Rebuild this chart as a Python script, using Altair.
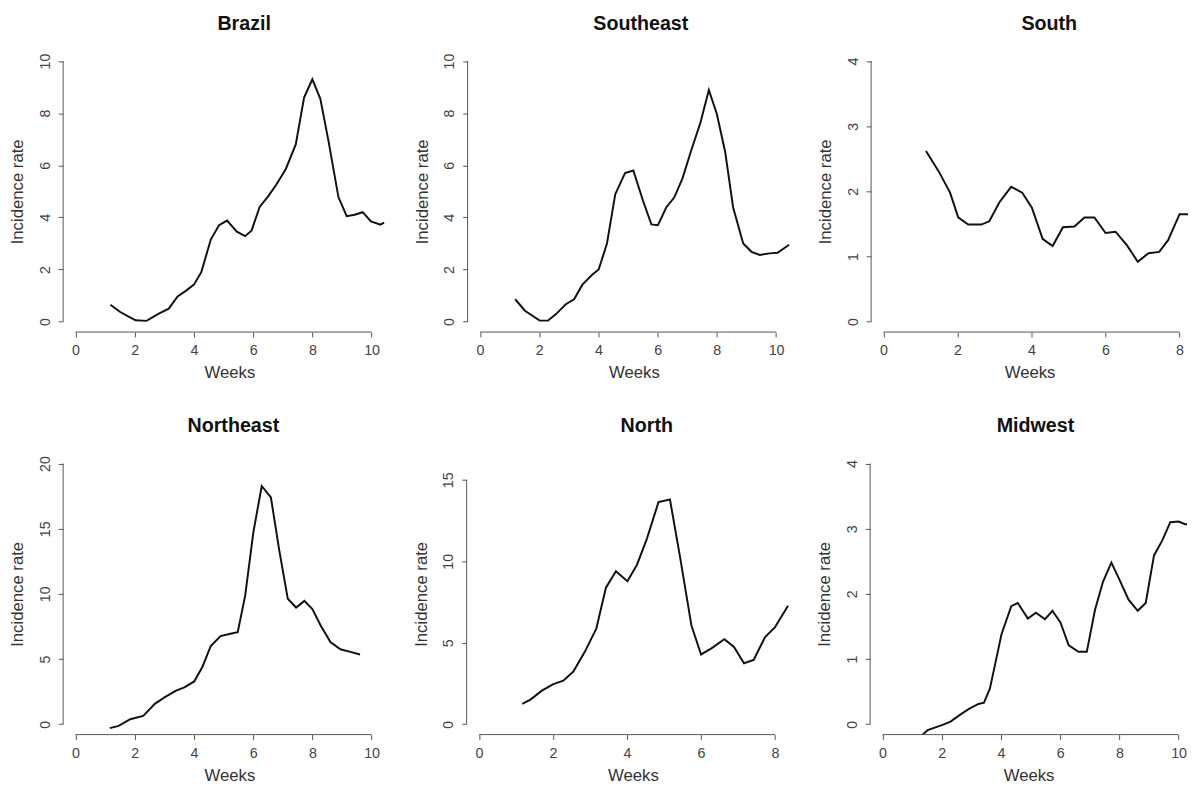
import altair as alt
import pandas as pd

# ---------------- data ----------------
regions = ["Brazil", "Southeast", "South", "Northeast", "North", "Midwest"]

brazil_weeks = [1.18, 1.5, 1.75, 2.03, 2.4, 2.8, 3.15, 3.45, 3.75, 4.0, 4.25, 4.57, 4.85,
                5.12, 5.45, 5.73, 5.95, 6.22, 6.5, 6.78, 7.1, 7.44, 7.72, 8.0, 8.27, 8.55,
                8.88, 9.16, 9.43, 9.7, 9.98, 10.3, 10.42]
brazil_rate = [0.65, 0.38, 0.22, 0.05, 0.03, 0.3, 0.5, 0.97, 1.2, 1.42, 1.9, 3.15, 3.7,
               3.88, 3.45, 3.28, 3.5, 4.4, 4.8, 5.25, 5.85, 6.8, 8.6, 9.3, 8.55, 6.9,
               4.78, 4.05, 4.1, 4.2, 3.85, 3.72, 3.8]

southeast_weeks = [1.19, 1.52, 2.02, 2.3, 2.57, 2.9, 3.18, 3.46, 3.79, 4.01, 4.29, 4.57,
                   4.9, 5.18, 5.51, 5.79, 6.01, 6.29, 6.56, 6.84, 7.12, 7.45, 7.73, 8.0,
                   8.28, 8.55, 8.89, 9.17, 9.45, 9.78, 10.05, 10.44]
southeast_rate = [0.86, 0.42, 0.04, 0.04, 0.29, 0.67, 0.86, 1.42, 1.8, 2.0, 3.0, 4.89,
                  5.7, 5.8, 4.63, 3.73, 3.7, 4.38, 4.76, 5.5, 6.52, 7.65, 8.89, 7.97,
                  6.52, 4.38, 3.0, 2.68, 2.56, 2.62, 2.64, 2.95]

south_weeks = [1.15, 1.49, 1.8, 2.02, 2.29, 2.64, 2.86, 3.13, 3.45, 3.75, 4.01, 4.3, 4.57,
               4.85, 5.16, 5.43, 5.7, 6.0, 6.27, 6.58, 6.87, 7.16, 7.45, 7.69, 8.0, 8.31]
south_rate = [2.62, 2.31, 1.98, 1.6, 1.49, 1.49, 1.54, 1.83, 2.07, 1.98, 1.75, 1.27, 1.16,
              1.45, 1.46, 1.6, 1.6, 1.36, 1.38, 1.17, 0.92, 1.05, 1.07, 1.25, 1.65, 1.65]

northeast_weeks = [1.16, 1.46, 1.85, 2.29, 2.68, 3.02, 3.4, 3.68, 4.01, 4.29, 4.57, 4.9,
                   5.23, 5.48, 5.73, 6.01, 6.29, 6.6, 6.88, 7.17, 7.45, 7.73, 8.0, 8.28,
                   8.61, 8.95, 9.28, 9.61]
northeast_rate = [-0.3, -0.13, 0.38, 0.63, 1.56, 2.07, 2.57, 2.82, 3.28, 4.41, 6.0, 6.76,
                  6.94, 7.06, 9.84, 14.75, 18.28, 17.4, 13.37, 9.63, 8.95, 9.46, 8.83, 7.57,
                  6.3, 5.75, 5.55, 5.35]

north_weeks = [1.17, 1.39, 1.7, 2.01, 2.28, 2.55, 2.86, 3.17, 3.43, 3.7, 4.01, 4.27, 4.54,
               4.85, 5.16, 5.43, 5.74, 6.0, 6.27, 6.63, 6.89, 7.16, 7.42, 7.73, 8.0, 8.35]
north_rate = [1.25, 1.51, 2.06, 2.46, 2.67, 3.23, 4.44, 5.86, 8.38, 9.39, 8.78, 9.79, 11.41,
              13.63, 13.79, 10.3, 6.06, 4.28, 4.64, 5.21, 4.74, 3.74, 3.94, 5.35, 5.96, 7.27]

midwest_weeks = [1.15, 1.53, 2.03, 2.3, 2.64, 2.91, 3.24, 3.43, 3.63, 3.8, 4.02, 4.35, 4.57,
                 4.91, 5.18, 5.49, 5.74, 6.01, 6.29, 6.62, 6.9, 7.18, 7.45, 7.73, 8.01,
                 8.31, 8.62, 8.89, 9.17, 9.45, 9.72, 10.0, 10.22, 10.39]
midwest_rate = [-0.25, -0.09, -0.01, 0.04, 0.15, 0.23, 0.31, 0.33, 0.55, 0.91, 1.38, 1.81,
                1.86, 1.62, 1.71, 1.61, 1.74, 1.56, 1.21, 1.11, 1.11, 1.76, 2.19, 2.48,
                2.21, 1.91, 1.74, 1.86, 2.59, 2.82, 3.1, 3.11, 3.07, 3.07]

x_ticks_10 = [0, 2, 4, 6, 8, 10]
x_ticks_8 = [0, 2, 4, 6, 8]
y_ticks_10 = [0, 2, 4, 6, 8, 10]
y_ticks_4 = [0, 1, 2, 3, 4]
y_ticks_20 = [0, 5, 10, 15, 20]
y_ticks_15 = [0, 5, 10, 15]

# axis limits (R style xlim/ylim, expanded by 4% on each side)
x_limits = [10.4, 10.4, 8.32, 10.4, 8.32, 10.4]
y_limits = [10, 10, 4, 20, 16, 4]

series = [
    (brazil_weeks, brazil_rate, x_ticks_10, y_ticks_10),
    (southeast_weeks, southeast_rate, x_ticks_10, y_ticks_10),
    (south_weeks, south_rate, x_ticks_8, y_ticks_4),
    (northeast_weeks, northeast_rate, x_ticks_10, y_ticks_20),
    (north_weeks, north_rate, x_ticks_8, y_ticks_15),
    (midwest_weeks, midwest_rate, x_ticks_10, y_ticks_4),
]

# ---------------- layout ----------------
FULL_W = 338
H = 286
widths = [338, 338, 322, 338, 338, 322]
title_dx = [15, 7, 20, 4, 14, 7]

FONT = "Liberation Sans"
AXIS_COLOR = "#555555"
LABEL_COLOR = "#444444"
TITLE_COLOR = "#333333"


def make_axes(xt, yt):
    x_axis = alt.Axis(values=xt, title="Weeks", domain=False, grid=False,
                      tickSize=5, tickColor=AXIS_COLOR, tickWidth=1,
                      labelPadding=7, labelFont=FONT, labelFontSize=14.5,
                      labelColor=LABEL_COLOR, titleFont=FONT, titleFontSize=17,
                      titleFontWeight="normal", titleColor=TITLE_COLOR,
                      titlePadding=8, format="d")
    y_axis = alt.Axis(values=yt, title="Incidence rate", domain=False, grid=False,
                      tickSize=5, tickColor=AXIS_COLOR, tickWidth=1,
                      labelPadding=6, labelAngle=270, labelAlign="center",
                      labelBaseline="bottom", labelFont=FONT, labelFontSize=14.5,
                      labelColor=LABEL_COLOR, titleFont=FONT, titleFontSize=17,
                      titleFontWeight="normal", titleColor=TITLE_COLOR,
                      titlePadding=11, format="d")
    return x_axis, y_axis


def panel(i):
    name = regions[i]
    xs, ys, xt, yt = series[i]
    xl, yl = x_limits[i], y_limits[i]
    w = widths[i]
    xmin, xmax_full = -0.04 * xl, 1.04 * xl
    xmax = xmin + (xmax_full - xmin) * w / FULL_W
    xscale = alt.Scale(domain=[xmin, xmax], nice=False, zero=False)
    yscale = alt.Scale(domain=[-0.04 * yl, 1.04 * yl], nice=False, zero=False)
    x_axis, y_axis = make_axes(xt, yt)

    df = pd.DataFrame({"week": xs, "rate": ys})
    line = alt.Chart(df).mark_line(color="#111111", strokeWidth=2, clip=True).encode(
        x=alt.X("week:Q", scale=xscale, axis=x_axis),
        y=alt.Y("rate:Q", scale=yscale, axis=y_axis),
    )
    xdf = pd.DataFrame({"week": [xt[0]], "week_end": [xt[-1]]})
    xline = alt.Chart(xdf).mark_rule(color=AXIS_COLOR, strokeWidth=1).encode(
        x=alt.X("week:Q", scale=xscale, axis=x_axis),
        x2="week_end:Q",
        y=alt.value(H),
    )
    ydf = pd.DataFrame({"rate": [yt[0]], "rate_end": [yt[-1]]})
    yline = alt.Chart(ydf).mark_rule(color=AXIS_COLOR, strokeWidth=1).encode(
        y=alt.Y("rate:Q", scale=yscale, axis=y_axis),
        y2="rate_end:Q",
        x=alt.value(0),
    )
    return alt.layer(xline, yline, line).properties(
        width=w, height=H,
        title=alt.TitleParams(name, fontSize=20, fontWeight="bold", font=FONT,
                              color="#111111", anchor="middle", frame="group",
                              baseline="alphabetic", offset=1, dx=title_dx[i]),
    )


row1 = alt.hconcat(panel(0), panel(1), panel(2), spacing=17)
row2 = alt.hconcat(panel(3), panel(4), panel(5), spacing=17)

chart = alt.vconcat(row1, row2, spacing=36).properties(
    padding=0,
    background="white",
).configure_view(stroke=None)

chart.save("out.html", embed_options={"renderer": "svg", "actions": False})
